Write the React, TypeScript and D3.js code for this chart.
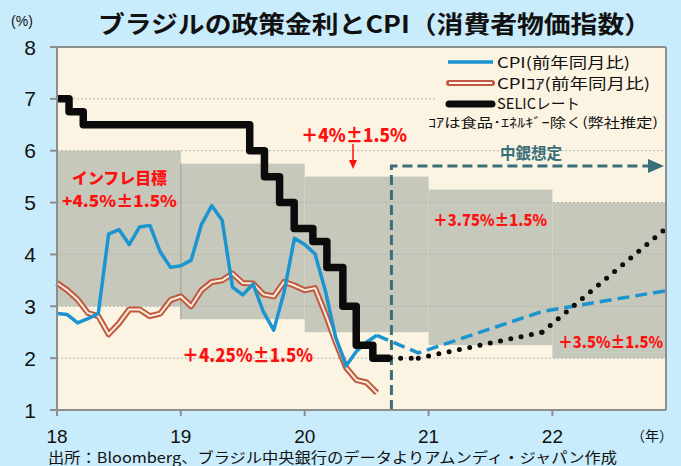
import * as d3 from 'd3';

// monthly data, Jan 2018 .. Aug 2020
const cpiActual = [2.86, 2.84, 2.68, 2.76, 2.86, 4.39, 4.48, 4.19, 4.53, 4.56, 4.05, 3.75,
  3.78, 3.89, 4.58, 4.94, 4.66, 3.37, 3.22, 3.43, 2.89, 2.54, 3.27, 4.31,
  4.19, 4.01, 3.30, 2.40, 1.85, 2.13, 2.31, 2.44];
const cpiCore = [3.45, 3.31, 3.13, 2.87, 2.81, 2.46, 2.67, 2.94, 2.94, 2.81, 2.86, 3.12,
  3.19, 3.0, 3.31, 3.47, 3.5, 3.63, 3.45, 3.44, 3.23, 3.19, 3.47, 3.40,
  3.31, 3.35, 2.86, 2.31, 1.82, 1.58, 1.53, 1.33];

// SELIC rate changes [time, rate]
const selic: [number, number][] = [
  [18.0, 7.0], [18.097, 6.75], [18.212, 6.5], [19.556, 6.0], [19.675, 5.5],
  [19.797, 5.0], [19.915, 4.5], [20.066, 4.25], [20.179, 3.75], [20.308, 3.0],
  [20.416, 2.25], [20.55, 2.0], [20.69, 2.0],
];

// central bank assumptions
const cpiForecast: [number, number][] = [[20.583, 2.44], [20.917, 2.1], [21.917, 2.9], [22.917, 3.3]];
const selicForecast: [number, number][] = [[20.69, 2.0], [20.917, 2.0], [21.917, 2.5], [22.917, 4.5]];
const forecastStart = 20.7;

// inflation target bands
const targetYears = [18, 19, 20, 21, 22];
const targetCenters = [4.5, 4.25, 4.0, 3.75, 3.5];
const targetTol = 1.5;

const yTicks = [1, 2, 3, 4, 5, 6, 7, 8];
const xTicks = [18, 19, 20, 21, 22];

const C = {
  outer: '#c8ecfb',
  plot: '#fbf4e2',
  band: '#c5c8ba',
  grid: '#b3b3ad',
  axis: '#8e8e8e',
  cpi: '#1b95d0',
  core: '#c2583e',
  selic: '#0b0b0b',
  teal: '#3a6e79',
  red: '#ff1010',
};

const JP = '"Noto Sans CJK JP", "Noto Sans", sans-serif';
const NUM = '"Liberation Sans", Arial, sans-serif';

export default function App() {
  const W = 681, H = 466;
  const x = d3.scaleLinear().domain([18, 22.917]).range([57, 666]);
  const y = d3.scaleLinear().domain([1, 8]).range([410, 47]);
  const monthT = (i: number) => 18 + i / 12;

  const line = d3.line<[number, number]>().x(d => x(d[0])).y(d => y(d[1]));
  const stepLine = d3.line<[number, number]>().x(d => x(d[0])).y(d => y(d[1])).curve(d3.curveStepAfter);

  const cpiPts = cpiActual.map((v, i) => [monthT(i), v] as [number, number]);
  const corePts = cpiCore.map((v, i) => [monthT(i), v] as [number, number]);

  const [x0, x1] = x.range();

  return (
    <div style={{ position: 'absolute', left: 0, top: 0 }}>
      <svg width={W} height={H} style={{ display: 'block' }}>
        <rect width={W} height={H} fill={C.outer} />
        <rect x={x0} y={y(8)} width={x1 - x0} height={y(1) - y(8)} fill={C.plot} />

        {/* target bands */}
        {targetYears.map((yr, i) => (
          <rect key={yr} x={x(yr)} y={y(targetCenters[i] + targetTol)}
            width={Math.min(x(yr + 1), x1) - x(yr)}
            height={y(targetCenters[i] - targetTol) - y(targetCenters[i] + targetTol)}
            fill={C.band} />
        ))}
        <line x1={x(19)} x2={x(19)} y1={y(targetCenters[1] + targetTol)} y2={y(targetCenters[1] - targetTol)}
          stroke="#a0a49a" strokeWidth={1.2} />

        {/* grid */}
        {yTicks.filter(t => t > 1 && t < 8).map(t => (
          <line key={t} x1={x0} x2={x1} y1={y(t)} y2={y(t)} stroke={C.grid} strokeWidth={1} strokeDasharray="2,2" />
        ))}

        {/* legend box */}
        <rect x={436} y={50} width={228} height={82} fill={C.plot} />

        {/* forecast arrow */}
        <path d={`M${x(forecastStart)},${y(1)} V166 H650`} fill="none" stroke={C.teal} strokeWidth={3} strokeDasharray="10,5" />
        <path d="M648,159 L664,166 L648,173 Z" fill={C.teal} />
        <text x={531} y={159} textAnchor="middle" fontFamily={JP} fontWeight={700} fontSize={16} fill={C.teal}
          textLength={62} lengthAdjust="spacingAndGlyphs">中銀想定</text>

        {/* core CPI double line */}
        <path d={line(corePts) || ''} fill="none" stroke={C.core} strokeWidth={6} strokeLinejoin="round" />
        <path d={line(corePts) || ''} fill="none" stroke="#f7eee0" strokeWidth={2} strokeLinejoin="round" />

        {/* CPI */}
        <path d={line(cpiPts) || ''} fill="none" stroke={C.cpi} strokeWidth={3.5} strokeLinejoin="round" />
        <path d={line(cpiForecast) || ''} fill="none" stroke={C.cpi} strokeWidth={3.5} strokeDasharray="12,6" />

        {/* SELIC */}
        <path d={stepLine(selic) || ''} fill="none" stroke={C.selic} strokeWidth={7.5} strokeLinejoin="round" />
        {selicForecast.slice(1).map((p, i) => (
          <path key={i} d={line([selicForecast[i], p]) || ''} fill="none" stroke={C.selic} strokeWidth={5}
            strokeLinecap="round" strokeDasharray="0,10.5" />
        ))}

        {/* plot frame */}
        <line x1={x0} x2={x1} y1={y(8)} y2={y(8)} stroke={C.axis} strokeWidth={2} />
        <line x1={x1} x2={x1} y1={y(8)} y2={y(1)} stroke={C.axis} strokeWidth={2} />
        <line x1={x0} x2={x0} y1={y(8)} y2={y(1)} stroke={C.axis} strokeWidth={2} />
        <line x1={x0 - 6} x2={x1} y1={y(1)} y2={y(1)} stroke={C.axis} strokeWidth={2} />

        {/* y axis */}
        {yTicks.map(t => (
          <g key={t}>
            <line x1={x0 - 7} x2={x0} y1={y(t)} y2={y(t)} stroke={C.axis} strokeWidth={2} />
            <text x={36} y={y(t) + 7.5} textAnchor="end" fontFamily={NUM} fontSize={21} fill="#111">{t}</text>
          </g>
        ))}
        <text x={22} y={26} textAnchor="middle" fontFamily={NUM} fontSize={14} fill="#111">(%)</text>

        {/* x axis */}
        {xTicks.map(t => (
          <g key={t}>
            <line x1={x(t)} x2={x(t)} y1={y(1)} y2={y(1) + 6} stroke={C.axis} strokeWidth={2} />
            <text x={x(t)} y={443} textAnchor="middle" fontFamily={NUM} fontSize={19} fill="#111">{t}</text>
          </g>
        ))}
        <text x={652} y={441} textAnchor="middle" fontFamily={JP} fontSize={14} fill="#111">（年）</text>

        {/* title */}
        <text x={98} y={33} fontFamily={JP} fontWeight={700} fontSize={24} fill="#111"
          textLength={553} lengthAdjust="spacingAndGlyphs">ブラジルの政策金利とCPI（消費者物価指数）</text>

        {/* legend */}
        <line x1={448} x2={493} y1={62} y2={62} stroke={C.cpi} strokeWidth={3.5} />
        <text x={497} y={67.5} fontFamily={JP} fontSize={15} fill="#111" textLength={133} lengthAdjust="spacingAndGlyphs">CPI(前年同月比)</text>
        <line x1={449} x2={492} y1={83} y2={83} stroke={C.core} strokeWidth={6} strokeLinecap="round" />
        <line x1={449} x2={492} y1={83} y2={83} stroke="#fdfaf3" strokeWidth={2} />
        <text x={497} y={88.5} fontFamily={JP} fontSize={15} fill="#111" textLength={153} lengthAdjust="spacingAndGlyphs">CPIｺｱ(前年同月比)</text>
        <line x1={449} x2={492} y1={104} y2={104} stroke={C.selic} strokeWidth={7} strokeLinecap="round" />
        <text x={497} y={109} fontFamily={JP} fontSize={15} fill="#111" textLength={83} lengthAdjust="spacingAndGlyphs">SELICレート</text>
        <text x={428} y={127} fontFamily={JP} fontSize={13} fill="#111" textLength={230} lengthAdjust="spacingAndGlyphs">ｺｱは食品･ｴﾈﾙｷﾞｰ除く(弊社推定)</text>

        {/* target annotations */}
        <g fontFamily={JP} fontWeight={900} fill={C.red}>
          <text x={72} y={184} fontSize={15.5} textLength={95} lengthAdjust="spacingAndGlyphs">インフレ目標</text>
          <text x={62} y={207} fontSize={16} textLength={115} lengthAdjust="spacingAndGlyphs">+4.5%±1.5%</text>
          <text x={301} y={142} fontSize={18} textLength={106} lengthAdjust="spacingAndGlyphs">＋4%±1.5%</text>
          <text x={182} y={362} fontSize={18} textLength={131} lengthAdjust="spacingAndGlyphs">＋4.25%±1.5%</text>
          <text x={433} y={226} fontSize={16} textLength={114} lengthAdjust="spacingAndGlyphs">＋3.75%±1.5%</text>
          <text x={558} y={348} fontSize={16} textLength={105} lengthAdjust="spacingAndGlyphs">＋3.5%±1.5%</text>
        </g>
        <line x1={353} x2={353} y1={144} y2={161} stroke={C.red} strokeWidth={1.5} />
        <path d="M349,160 L357,160 L353,169 Z" fill={C.red} />

        {/* source */}
        <text x={48} y={462.5} fontFamily={JP} fontSize={14.5} fill="#111" textLength={569} lengthAdjust="spacingAndGlyphs">出所：Bloomberg、ブラジル中央銀行のデータよりアムンディ・ジャパン作成</text>
      </svg>
    </div>
  );
}
